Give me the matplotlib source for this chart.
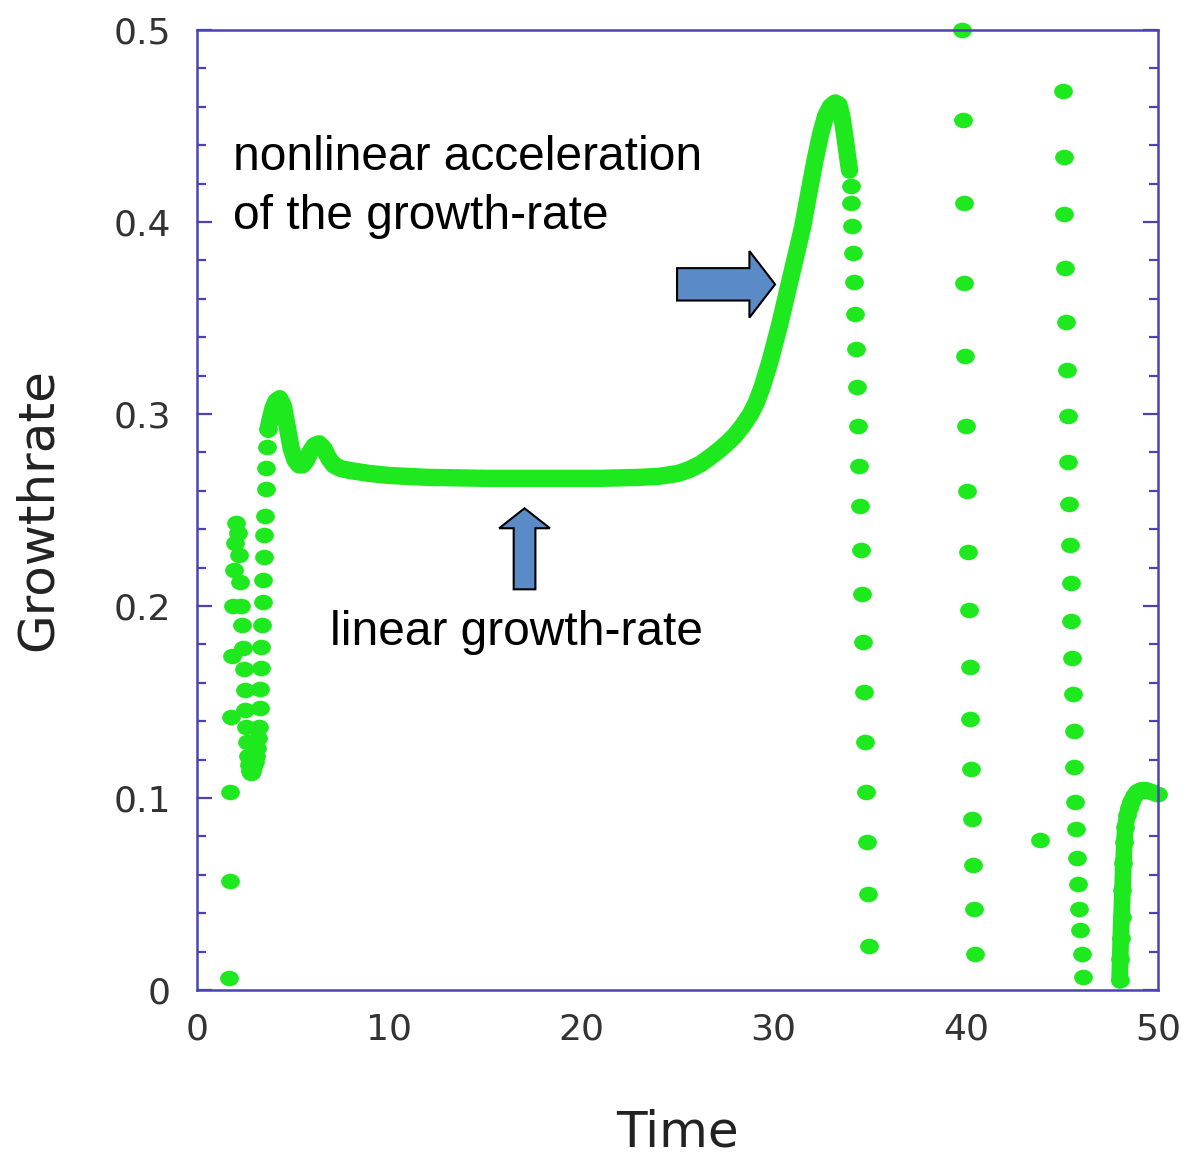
import matplotlib
matplotlib.use('Agg')
import matplotlib.pyplot as plt
import matplotlib.patches as mpatches
from matplotlib.markers import MarkerStyle
from matplotlib.path import Path
from matplotlib.transforms import Affine2D
from matplotlib.ticker import MultipleLocator

########
# Data #
########

# scattered output at the very start (t < 3.7)
early_t = [1.66, 1.70, 1.74, 1.78, 1.82, 1.86, 1.92, 1.98, 2.05,
           2.12, 2.17, 2.22, 2.27, 2.32, 2.37, 2.42, 2.47, 2.52, 2.57,
           2.62, 2.67, 2.72, 2.77, 2.82, 2.87, 2.93, 2.99, 3.05, 3.11,
           3.17, 3.22, 3.26, 3.29, 3.32, 3.35, 3.38, 3.41, 3.44, 3.47,
           3.50, 3.53, 3.57, 3.61, 3.65, 3.70]
early_g = [0.006, 0.057, 0.103, 0.142, 0.174, 0.200, 0.219, 0.233, 0.243,
           0.238, 0.2265, 0.2125, 0.200, 0.190, 0.178, 0.167, 0.156, 0.146, 0.137,
           0.129, 0.122, 0.117, 0.114, 0.113, 0.114, 0.116, 0.119, 0.122, 0.126,
           0.131, 0.137, 0.147, 0.157, 0.1677, 0.1786, 0.190, 0.202, 0.2135, 0.2255,
           0.237, 0.247, 0.261, 0.272, 0.283, 0.292]

# dense part: linear phase and nonlinear acceleration
curve_t = [3.70, 3.80, 3.95, 4.10, 4.30, 4.50, 4.70, 4.90, 5.10, 5.30,
           5.50, 5.70, 5.90, 6.10, 6.35, 6.60, 6.85, 7.10, 7.50, 8.00,
           9.00, 10.0, 12.0, 15.0, 18.0, 21.0, 23.0, 24.0, 25.0, 25.6,
           26.2, 26.7, 27.2, 27.6, 28.0, 28.4, 28.8, 29.1, 29.4, 29.8,
           30.3, 30.7, 31.1, 31.5, 31.85, 32.15, 32.45, 32.7, 32.95, 33.2,
           33.4, 33.55, 33.7, 33.85, 33.95]
curve_g = [0.292, 0.297, 0.303, 0.3065, 0.308, 0.304, 0.293, 0.282, 0.276, 0.2735,
           0.2735, 0.276, 0.2805, 0.2835, 0.2845, 0.282, 0.277, 0.2735, 0.2715, 0.2705,
           0.269, 0.268, 0.267, 0.2665, 0.2665, 0.2665, 0.267, 0.2675, 0.269, 0.271,
           0.274, 0.2776, 0.2815, 0.285, 0.289, 0.294, 0.300, 0.306, 0.314, 0.327,
           0.346, 0.363, 0.380, 0.397, 0.416, 0.432, 0.446, 0.455, 0.460, 0.462,
           0.461, 0.455, 0.445, 0.434, 0.427]

# sparse columns after saturation
drop1_t = [34.00, 34.05, 34.10, 34.15, 34.20, 34.25, 34.30, 34.35, 34.40, 34.45,
           34.50, 34.55, 34.60, 34.65, 34.70, 34.75, 34.80, 34.85, 34.90, 34.95]
drop1_g = [0.419, 0.410, 0.398, 0.384, 0.369, 0.352, 0.334, 0.314, 0.294, 0.273,
           0.252, 0.229, 0.206, 0.181, 0.155, 0.129, 0.103, 0.077, 0.050, 0.023]

drop2_t = [39.78, 39.83, 39.88, 39.93, 39.97, 40.02, 40.06, 40.11, 40.15, 40.20,
           40.24, 40.29, 40.33, 40.38, 40.43, 40.50]
drop2_g = [0.500, 0.453, 0.410, 0.368, 0.330, 0.294, 0.260, 0.228, 0.198, 0.168,
           0.141, 0.115, 0.089, 0.065, 0.042, 0.019]

lone_t = [43.86]
lone_g = [0.078]

drop3_t = [45.05, 45.09, 45.13, 45.17, 45.21, 45.25, 45.29, 45.33, 45.37, 45.41,
           45.45, 45.49, 45.53, 45.57, 45.61, 45.65, 45.70, 45.75, 45.80, 45.85,
           45.90, 45.96, 46.03, 46.10]
drop3_g = [0.468, 0.434, 0.404, 0.376, 0.348, 0.323, 0.299, 0.275, 0.253, 0.232,
           0.212, 0.192, 0.173, 0.154, 0.135, 0.116, 0.098, 0.084, 0.069, 0.055,
           0.042, 0.031, 0.019, 0.007]

end_t = [48.00, 48.03, 48.06, 48.10, 48.15, 48.20, 48.25, 48.30, 48.40, 48.50,
         48.60, 48.75, 48.90, 49.10, 49.40, 49.70, 50.00]
end_g = [0.005, 0.016, 0.027, 0.038, 0.052, 0.066, 0.077, 0.085, 0.091, 0.095,
         0.098, 0.101, 0.103, 0.104, 0.104, 0.103, 0.102]

##########
# Styles #
##########
GREEN = '#1ee81e'
FRAME = '#4a44b2'
ARROW = '#5b8bc6'

# slightly flattened dots, as in the original
dot = MarkerStyle(Path.unit_circle().transformed(Affine2D().scale(1.2, 1.0)))

fig = plt.figure(figsize=(11.92, 11.59), dpi=100)
ax = fig.add_axes([0.1653, 0.1458, 0.8062, 0.8283])

ax.plot(curve_t, curve_g, color=GREEN, lw=12.5,
        solid_capstyle='round', solid_joinstyle='round')
ax.plot(end_t, end_g, color=GREEN, lw=12,
        solid_capstyle='round', solid_joinstyle='round')

for t, g in [(early_t, early_g), (drop1_t, drop1_g), (drop2_t, drop2_g),
             (lone_t, lone_g), (drop3_t, drop3_g), (end_t, end_g)]:
    ax.plot(t, g, ls='none', marker=dot, ms=13.5, color=GREEN,
            mec='none', clip_on=False)

ax.set_xlim(0, 50)
ax.set_ylim(0, 0.5)
ax.set_xticks([0, 10, 20, 30, 40, 50])
ax.set_xticklabels(['0', '10', '20', '30', '40', '50'])
ax.set_yticks([0, 0.1, 0.2, 0.3, 0.4, 0.5])
ax.set_yticklabels(['0', '0.1', '0.2', '0.3', '0.4', '0.5'])
ax.yaxis.set_minor_locator(MultipleLocator(0.02))

for s in ax.spines.values():
    s.set_color(FRAME)
    s.set_linewidth(1.8)

ax.tick_params(axis='y', which='both', direction='in', color=FRAME,
               left=True, right=True, width=1.6, labelsize=26,
               labelcolor='#333333', pad=19)
ax.tick_params(axis='y', which='major', length=11)
ax.tick_params(axis='y', which='minor', length=6.5)
ax.tick_params(axis='x', which='both', length=0, labelsize=26,
               labelcolor='#333333', pad=16)

ax.set_xlabel('Time', fontsize=36, color='#222222', labelpad=45)
ax.set_ylabel('Growthrate', fontsize=36, color='#222222', labelpad=37)

# annotations
txt = dict(transform=ax.transAxes, fontsize=34.5, color='black',
           family='Liberation Sans', va='baseline', ha='left')
ax.text(0.0375, 0.854, 'nonlinear acceleration', **txt)
ax.text(0.0375, 0.7927, 'of the growth-rate', **txt)
ax.text(0.1384, 0.359, 'linear growth-rate', **txt)

ax.add_patch(mpatches.FancyArrow(0.4995, 0.7351, 0.102, 0.0, width=0.03375,
                                 head_width=0.0694, head_length=0.0267,
                                 length_includes_head=True, transform=ax.transAxes,
                                 facecolor=ARROW, edgecolor='black', lw=1.5))
ax.add_patch(mpatches.FancyArrow(0.3408, 0.4174, 0.0, 0.0844, width=0.0226,
                                 head_width=0.0528, head_length=0.0208,
                                 length_includes_head=True, transform=ax.transAxes,
                                 facecolor=ARROW, edgecolor='black', lw=1.5))

fig.savefig('out.png', dpi=100)
